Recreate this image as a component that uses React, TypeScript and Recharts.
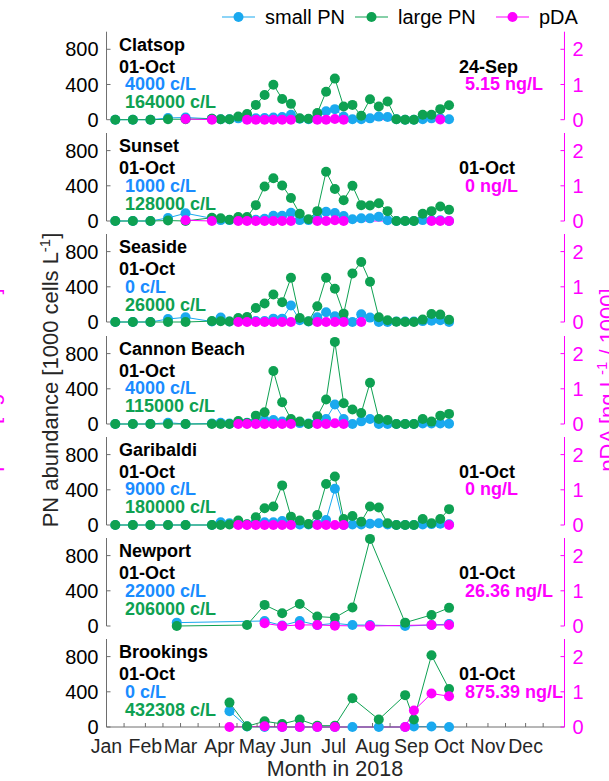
import React from 'react';
import { ComposedChart, Line, XAxis, YAxis } from 'recharts';

const _ = null;

// weekly sampling Mondays, as day of 2018 (0 = 1 Jan)
const SAMPLE_DAYS = [7, 14, 21, 28, 35, 42, 49, 56, 63, 70, 77, 84, 91, 98, 105, 112, 119, 126, 133, 140, 147, 154, 161, 168, 175, 182, 189, 196, 203, 210, 217, 224, 231, 238, 245, 252, 259, 266, 273];

const MONTH_STARTS = [0, 31, 59, 90, 120, 151, 181, 212, 243, 273, 304, 334];
const MID_MONTHS = [14, 45, 73, 104, 134, 165, 195, 226, 257, 287, 318, 348];
const MONTH_LABELS = ['Jan', 'Feb', 'Mar', 'Apr', 'May', 'Jun', 'Jul', 'Aug', 'Sep', 'Oct', 'Nov', 'Dec'];

const SITES = ['Clatsop', 'Sunset', 'Seaside', 'Cannon Beach', 'Garibaldi', 'Newport', 'Brookings'];

// PN abundance, 1000 cells/L ; pDA, ng/L / 1000
const clatsopSmall = [0, _, 0, _, 0, _, 20, _, 25, _, _, 10, 5, 5, 15, 10, 15, 20, 25, 30, 55, 10, 5, 10, 95, 120, 35, 5, 5, 15, 35, 30, 5, 0, 0, 5, 15, 15, 4];
const clatsopLarge = [0, _, 0, _, 0, _, 5, _, 5, _, _, 10, 5, 5, 35, 64, 168, 280, 398, 236, 180, 15, 10, 75, 318, 467, 150, 168, 45, 232, 150, 206, 5, 0, 0, 56, 56, 120, 164];
const clatsopPda = [_, _, _, _, _, _, _, _, 0.02, _, _, 0, _, _, _, 0, 0, 0, 0, 0, 0, _, _, 0, 0, 0.02, 0, _, _, _, _, _, _, _, _, _, _, 0.005, _];

const sunsetSmall = [0, _, 0, _, 0, _, 35, _, 88, _, _, 30, 10, 10, 15, 10, 15, 25, 60, 60, 93, 10, 10, 35, 105, 90, 56, 19, 30, 30, 49, 8, 0, 0, 0, 10, 8, 8, 1];
const sunsetLarge = [0, _, 0, _, 0, _, 5, _, 0, _, _, 37, 30, 15, 45, 45, 180, 393, 486, 404, 262, 82, 19, 112, 560, 363, 236, 400, 180, 176, 202, 112, 0, 0, 0, 82, 112, 165, 128];
const sunsetPda = [_, _, _, _, _, _, _, _, 0.02, _, _, 0, _, _, 0, 0, 0, 0, 0, 0, 0, _, _, 0, 0, 0.02, 0, _, _, _, _, _, _, _, _, _, 0, 0, 0];

const seasideSmall = [0, _, 0, _, 0, _, 34, _, 53, _, _, 5, 50, 5, 10, 10, 10, 10, 38, 38, 187, 20, 5, 53, 110, 65, 27, 0, 88, 50, 0, 0, 5, 5, 5, 10, 15, 19, 0];
const seasideLarge = [0, _, 0, _, 0, _, 0, _, 0, _, _, 10, 8, 5, 46, 57, 160, 210, 312, 225, 503, 46, 8, 179, 503, 377, 95, 552, 682, 457, 53, 19, 4, 0, 0, 27, 91, 84, 26];
const seasidePda = [_, _, _, _, _, _, _, _, _, _, _, _, _, _, 0, 0, 0, 0, 0, 0, 0, _, _, 0, 0, 0, 0, _, 0, _, _, _, _, _, _, _, _, _, _];

const cannonSmall = [0, _, 0, _, 0, _, 15, _, 0, _, _, 5, 15, 5, 10, 15, 20, 46, 46, 27, 10, 10, 5, 20, 57, 221, 57, 0, 30, 57, 0, 0, 0, 0, 0, 5, 5, 5, 4];
const cannonLarge = [0, _, 0, _, 0, _, 0, _, 0, _, _, 0, 0, 0, 34, 11, 95, 133, 602, 248, 57, 27, 0, 88, 278, 933, 236, 164, 126, 469, 57, 46, 0, 0, 0, 57, 27, 95, 115];
const cannonPda = [_, _, _, _, _, _, _, _, _, _, _, _, _, _, 0, 0, 0, 0, 0, 0, 0, _, _, 0, 0, 0.02, 0, _, _, _, _, _, _, _, _, _, _, _, _];

const garibaldiSmall = [0, _, 0, _, 0, _, 0, _, 0, _, _, 0, 30, 20, 10, 5, 30, 30, 30, 46, 10, 5, 5, 10, 57, 411, 0, 5, 5, 15, 20, 5, 0, 0, 0, 5, 10, 15, 9];
const garibaldiLarge = [0, _, 0, _, 0, _, 0, _, 0, _, _, 0, 0, 5, 50, 8, 88, 190, 210, 450, 95, 50, 11, 114, 465, 552, 69, 103, 38, 210, 198, 19, 0, 0, 0, 69, 19, 69, 180];
const garibaldiPda = [_, _, _, _, _, _, _, _, _, _, _, _, _, _, 0, 0, 0, 0, 0, 0, 0, _, _, 0, 0, 0, 0, _, _, _, _, _, _, _, _, _, _, _, 0];

const newportSmall = [_, _, _, _, _, _, _, 38, _, _, _, _, _, _, _, _, _, 57, _, 5, _, 57, _, 11, _, 30, _, 11, _, 11, _, _, _, 0, _, _, 11, _, 22];
const newportLarge = [_, _, _, _, _, _, _, 0, _, _, _, _, _, _, _, 11, _, 240, _, 145, _, 251, _, 107, _, 95, _, 210, _, 990, _, _, _, 38, _, _, 126, _, 206];
const newportPda = [_, _, _, _, _, _, _, _, _, _, _, _, _, _, _, _, _, 0.076, _, 0, _, 0.03, _, 0.03, _, 0.01, _, _, _, 0, _, _, _, _, _, _, 0.03, _, 0.026];

const brookingsSmall = [_, _, _, _, _, _, _, _, _, _, _, _, _, 180, _, 5, _, 0, _, 0, _, 0, _, 0, _, 0, _, 0, _, _, 0, _, _, 0, 5, _, 5, _, 0];
const brookingsLarge = [_, _, _, _, _, _, _, _, _, _, _, _, _, 277, _, 8, _, 65, _, 35, _, 85, _, 15, _, 15, _, 327, _, _, 85, _, _, 362, 85, _, 815, _, 432];
const brookingsPda = [_, _, _, _, _, _, _, _, _, _, _, _, _, 0, _, _, _, 0.02, _, 0, _, 0, _, 0, _, 0, _, _, _, _, _, _, _, 0, 0.47, _, 0.95, _, 0.875];

const SMALL_PN = [clatsopSmall, sunsetSmall, seasideSmall, cannonSmall, garibaldiSmall, newportSmall, brookingsSmall];
const LARGE_PN = [clatsopLarge, sunsetLarge, seasideLarge, cannonLarge, garibaldiLarge, newportLarge, brookingsLarge];
const PDA = [clatsopPda, sunsetPda, seasidePda, cannonPda, garibaldiPda, newportPda, brookingsPda];

// annotation texts
const LAST_DATE = ['01-Oct', '01-Oct', '01-Oct', '01-Oct', '01-Oct', '01-Oct', '01-Oct'];
const SMALL_TEXT = ['4000 c/L', '1000 c/L', '0 c/L', '4000 c/L', '9000 c/L', '22000 c/L', '0 c/L'];
const LARGE_TEXT = ['164000 c/L', '128000 c/L', '26000 c/L', '115000 c/L', '180000 c/L', '206000 c/L', '432308 c/L'];
const PDA_DATE = ['24-Sep', '01-Oct', '', '', '01-Oct', '01-Oct', '01-Oct'];
const PDA_TEXT = ['5.15 ng/L', '0 ng/L', '', '', '0 ng/L', '26.36 ng/L', '875.39 ng/L'];

const W = 609;
const H = 781;
const PLOT_LEFT = 106.5;
const PLOT_RIGHT = 564.5;
const PLOT_H = 88;
const PANEL_TOPS = [31.7, 133, 234.2, 335.5, 436.8, 538, 639.3];

const SMALL_COLOR = '#1aa9ef';
const SMALL_TXT = '#1a8cff';
const LARGE_COLOR = '#0ea152';
const PDA_COLOR = '#ff00ff';
const AXIS_GREY = '#6e6e6e';
const FONT = '"Liberation Sans", Arial, Helvetica, sans-serif';

const X_TICKS = [...MONTH_STARTS, ...MID_MONTHS].sort((a, b) => a - b);
const monthLabel = (v: number) => {
  const m = MONTH_STARTS.indexOf(v);
  return m >= 0 ? MONTH_LABELS[m] : '';
};

const Panel = ({ i }: { i: number }) => {
  const first = i === 0;
  const last = i === SITES.length - 1;
  const mt = first ? PANEL_TOPS[0] : 12;
  const axisH = last ? 36 : 0;
  const mb = last ? 0 : 12;
  const data = SAMPLE_DAYS.map((day, k) => ({
    day,
    small: SMALL_PN[i][k],
    large: LARGE_PN[i][k],
    pda: PDA[i][k],
  }));
  const dot = (c: string) => ({ r: 5, fill: c, stroke: c, strokeWidth: 0 });
  const grey = { stroke: AXIS_GREY };
  const pink = { stroke: PDA_COLOR };

  return (
    <div style={{ position: 'absolute', left: 0, top: PANEL_TOPS[i] - mt }}>
      <ComposedChart
        width={W}
        height={mt + PLOT_H + axisH + mb}
        data={data}
        margin={{ top: mt, right: 0, bottom: mb, left: 0 }}
      >
        <XAxis
          xAxisId="b"
          dataKey="day"
          type="number"
          domain={[0, 365]}
          ticks={X_TICKS}
          interval={0}
          height={axisH}
          tickSize={-4}
          tickMargin={16}
          tickFormatter={monthLabel}
          tick={last ? { fill: '#262626', fontSize: 19.5 } : false}
          axisLine={grey}
          tickLine={grey}
        />
        <XAxis
          xAxisId="t"
          orientation="top"
          dataKey="day"
          type="number"
          domain={[0, 365]}
          allowDataOverflow
          ticks={X_TICKS}
          interval={0}
          height={0}
          tickSize={-4}
          tick={false}
          axisLine={grey}
          tickLine={grey}
        />
        <YAxis
          yAxisId="l"
          domain={[0, 1000]}
          ticks={[0, 400, 800]}
          interval={0}
          width={PLOT_LEFT}
          tickSize={-4}
          tickMargin={12}
          tick={{ fill: '#000', fontSize: 20 }}
          axisLine={grey}
          tickLine={grey}
        />
        <YAxis
          yAxisId="r"
          orientation="right"
          domain={[0, 2.5]}
          ticks={[0, 1, 2]}
          interval={0}
          width={W - PLOT_RIGHT}
          tickSize={-4}
          tickMargin={12}
          tick={{ fill: PDA_COLOR, fontSize: 20 }}
          axisLine={pink}
          tickLine={pink}
        />
        <Line xAxisId="b" yAxisId="l" dataKey="small" stroke={SMALL_COLOR} strokeWidth={1} dot={dot(SMALL_COLOR)} activeDot={false} connectNulls isAnimationActive={false} />
        <Line xAxisId="b" yAxisId="l" dataKey="large" stroke={LARGE_COLOR} strokeWidth={1} dot={dot(LARGE_COLOR)} activeDot={false} connectNulls isAnimationActive={false} />
        <Line xAxisId="b" yAxisId="r" dataKey="pda" stroke={PDA_COLOR} strokeWidth={1} dot={dot(PDA_COLOR)} activeDot={false} connectNulls isAnimationActive={false} />
      </ComposedChart>
    </div>
  );
};

const LEGEND = [
  { label: 'small PN', color: SMALL_COLOR, x: 222 },
  { label: 'large PN', color: LARGE_COLOR, x: 355 },
  { label: 'pDA', color: PDA_COLOR, x: 496 },
];

const Overlay = () => (
  <svg width={W} height={H} style={{ position: 'absolute', left: 0, top: 0, pointerEvents: 'none' }} fontFamily={FONT}>
    {LEGEND.map((it) => (
      <g key={it.label}>
        <line x1={it.x} x2={it.x + 33} y1={17} y2={17} stroke={it.color} strokeWidth={1.2} />
        <circle cx={it.x + 16.5} cy={17} r={5} fill={it.color} />
        <text x={it.x + 43} y={24} fontSize={20} fill="#000">{it.label}</text>
      </g>
    ))}

    {SITES.map((name, i) => {
      const t = PANEL_TOPS[i];
      return (
        <g key={name} fontWeight="bold" fontSize={18}>
          <text x={119} y={t + 19} fill="#000">{name}</text>
          <text x={119} y={t + 41} fill="#000">{LAST_DATE[i]}</text>
          <text x={125} y={t + 58.5} fill={SMALL_TXT}>{SMALL_TEXT[i]}</text>
          <text x={125} y={t + 76.5} fill={LARGE_COLOR}>{LARGE_TEXT[i]}</text>
          {PDA_DATE[i] && <text x={459} y={t + 41} fill="#000">{PDA_DATE[i]}</text>}
          {PDA_TEXT[i] && <text x={465} y={t + 58.5} fill={PDA_COLOR}>{PDA_TEXT[i]}</text>}
        </g>
      );
    })}

    <text x={335} y={776} textAnchor="middle" fontSize={21.5} fill="#262626">Month in 2018</text>
    <text transform="translate(58,380) rotate(-90)" textAnchor="middle" fontSize={22} fill="#262626">
      PN abundance [1000 cells L<tspan dy={-8} fontSize={15}>-1</tspan><tspan dy={8}>]</tspan>
    </text>
    <text transform="translate(615,380) rotate(-90)" textAnchor="middle" fontSize={22} fill={PDA_COLOR}>
      pDA [ng L<tspan dy={-8} fontSize={15}>-1</tspan><tspan dy={8}> / 1000]</tspan>
    </text>
    <text transform="translate(-1.5,380) rotate(-90)" textAnchor="middle" fontSize={22} fill={PDA_COLOR}>
      pDA [ng L<tspan dy={-8} fontSize={15}>-1</tspan><tspan dy={8}> / 1000]</tspan>
    </text>
  </svg>
);

export default function App() {
  return (
    <div style={{ position: 'absolute', left: 0, top: 0, width: W, height: H, background: '#fff', fontFamily: FONT }}>
      {SITES.map((s, i) => (
        <Panel key={s} i={i} />
      ))}
      <Overlay />
    </div>
  );
}
